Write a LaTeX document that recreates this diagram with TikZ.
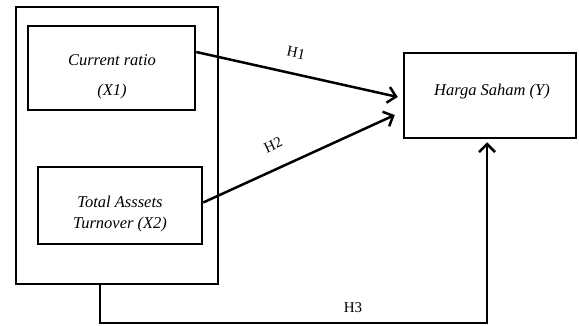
\documentclass[tikz,border=0pt]{standalone}
\usepackage{fontspec}
\setmainfont{Liberation Serif}
\usetikzlibrary{arrows.meta}
\begin{document}
\begin{tikzpicture}[x=1pt,y=-1pt,
  box/.style={draw,line width=2.5pt,rectangle,inner sep=0pt},
  txt/.style={align=center,inner sep=0pt,font=\fontsize{16.5}{30}\selectfont\itshape},
  conn/.style={line width=2.5pt,-{Straight Barb[length=8pt,width=16pt,line width=2.5pt]}},
  lbl/.style={font=\fontsize{15}{17}\selectfont,inner sep=1pt}]
\useasboundingbox (0,0) rectangle (579,326);
\node[box,minimum width=202pt,minimum height=277pt] (outer) at (117,145.5) {};
\node[box,minimum width=167pt,minimum height=84pt] (x1) at (111.5,68) {};
\node[box,minimum width=164pt,minimum height=77pt] (x2) at (120,205.5) {};
\node[box,minimum width=172pt,minimum height=85pt] (y) at (490,95.5) {};
\node[txt] (x1t) at (112,77) {Current ratio\\(X1)};
\node[txt,font=\fontsize{16.5}{21}\selectfont\itshape] (x2t) at (120,214.5) {Total Asssets\\Turnover (X2)};
\node[txt] (yt) at (492,92) {Harga Saham (Y)};
\coordinate (c1) at (100,323);
\coordinate (c2) at (487,323);
\draw[conn] ([yshift=16pt]x1.east) -- ([xshift=-5pt,yshift=-1.5pt]y.west);
\draw[conn] ([yshift=3pt]x2.east) -- ([xshift=-8pt,yshift=-19.5pt]y.west);
\draw[conn] ([xshift=-17pt]outer.south) -- (c1) -- (c2) -- ([xshift=-3pt,yshift=-3pt]y.south);
\node[lbl,rotate=-12] (h1) at (296,53) {H1};
\node[lbl,rotate=25] (h2) at (273,145) {H2};
\node[lbl] (h3) at (353,308) {H3};
\end{tikzpicture}
\end{document}
